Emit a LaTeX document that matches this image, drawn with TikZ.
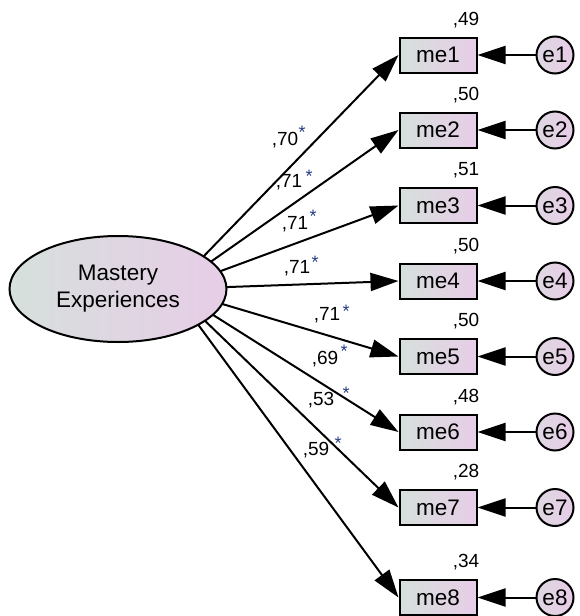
\documentclass[tikz,border=0pt]{standalone}
\usepackage{fontspec}
\setmainfont{Liberation Sans}
\usetikzlibrary{arrows.meta,shapes.geometric}
\pgfdeclarelayer{back}
\pgfsetlayers{back,main}
\definecolor{shadeL}{RGB}{214,224,220}
\definecolor{shadeR}{RGB}{231,205,231}
\definecolor{starblue}{RGB}{40,60,130}

\begin{document}
\begin{tikzpicture}[x=1pt,y=-1pt,
  every node/.style={font=\fontsize{22.5}{27}\selectfont},
  latent/.style={ellipse, draw, line width=2pt, left color=shadeL, right color=shadeR,
    minimum width=217pt, minimum height=106pt, inner sep=0pt, align=center},
  obs/.style={rectangle, draw, line width=2pt, left color=shadeL, right color=shadeR,
    minimum width=77pt, minimum height=35pt, inner sep=0pt},
  err/.style={circle, draw, line width=2pt, left color=shadeL!50!shadeR, right color=shadeR,
    minimum size=37pt, inner sep=0pt},
  path/.style={draw, line width=2pt, -{Triangle[length=28pt,width=18pt]}},
  coef/.style={font=\fontsize{19}{21}\selectfont, inner sep=0pt},
  sig/.style={font=\fontsize{18}{20}\selectfont, text=starblue, inner sep=0pt},
]
\useasboundingbox (0,0) rectangle (579,616);

% latent factor
\node[latent] (ME) at (118,289) {Mastery\\Experiences};
\coordinate (hub) at (172,289);

% indicators, their error terms and squared multiple correlations
\foreach \i/\y/\v in {1/55/49, 2/130/50, 3/205.5/51, 4/281/50, 5/356.5/50, 6/432/48, 7/507.5/28, 8/597.5/34} {
  \node[obs] (me\i) at (438,\y) {me\i};
  \node[err] (e\i) at (555,\y) {e\i};
  \node[coef] (r\i) at (466,\y-35) {,\v};
  \draw[path] (e\i) -- (me\i);
}

% factor loadings
\begin{pgfonlayer}{back}
  \foreach \i in {1,...,8} \draw[path] (hub) -- (me\i.west);
\end{pgfonlayer}

% standardized loading labels with significance marks
\foreach \i/\x/\y/\v/\sx/\sy in {
  1/285/140/70/302/132,
  2/289/182/71/309/176,
  3/295/224/71/313/216,
  4/297/268/71/315/262,
  5/327/315/71/346/311,
  6/325/359/69/344/351,
  7/321/400/53/346/393,
  8/316/450/59/338/443} {
  \node[coef] (c\i) at (\x,\y) {,\v};
  \node[sig] (s\i) at (\sx,\sy) {*};
}
\end{tikzpicture}
\end{document}
